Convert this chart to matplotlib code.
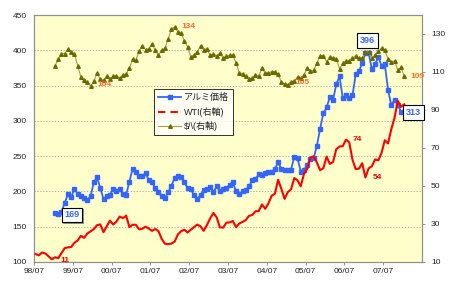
import matplotlib
matplotlib.use("Agg")
import matplotlib.pyplot as plt
import matplotlib.patheffects as pe
from matplotlib.lines import Line2D
import numpy as np

plt.rcParams['font.family'] = ['Liberation Sans', 'Noto Sans CJK JP', 'DejaVu Sans']

# ------------------------------------------------------------
# DATA (monthly, index 0 = 98/07)
# ------------------------------------------------------------
tick_labels = ["98/07", "99/07", "00/07", "01/07", "02/07", "03/07",
               "04/07", "05/07", "06/07", "07/07"]

# aluminium price (left axis), from 99/01
alu_start = 6
alu = [169, 168, 171, 184, 196, 192, 203, 197, 193, 191, 188, 193,
       213, 220, 205, 189, 193, 195, 204, 200, 204, 196, 195, 214,
       232, 227, 222, 222, 226, 216, 213, 205, 199, 193, 190, 199,
       208, 219, 222, 221, 213, 205, 203, 195, 189, 195, 202, 204,
       206, 199, 207, 201, 204, 205, 209, 213, 200, 196, 200, 202,
       207, 216, 218, 224, 223, 226, 227, 228, 232, 241, 232, 230,
       230, 231, 249, 247, 228, 230, 238, 246, 247, 265, 289, 311,
       319, 334, 330, 352, 363, 332, 336, 332, 336, 366, 370, 382,
       396, 396, 373, 381, 390, 378, 380, 344, 322, 330, 323, 313]

# WTI (right axis), from 98/07
wti = [14.2, 13.5, 15.0, 14.5, 13.0, 11.4,
       12.5, 12.0, 14.7, 17.3, 17.7, 17.9, 20.1, 21.3, 23.8, 22.7, 25.0, 26.1,
       27.3, 29.4, 29.8, 25.7, 28.8, 31.8, 29.7, 31.3, 33.9, 33.1, 34.4, 28.4,
       29.6, 29.6, 27.2, 27.5, 28.6, 27.6, 26.4, 27.4, 26.2, 22.2, 19.6, 19.4,
       19.7, 20.7, 24.5, 26.2, 27.0, 25.5, 27.0, 28.4, 29.7, 28.8, 26.4, 29.5,
       33.0, 35.8, 33.5, 28.2, 28.1, 30.7, 30.8, 31.6, 28.3, 30.3, 31.1, 32.1,
       34.3, 34.7, 36.7, 36.8, 40.3, 38.0, 40.8, 44.9, 45.9, 53.3, 48.5, 43.2,
       46.8, 48.2, 54.2, 53.0, 49.8, 56.4, 59.0, 65.0, 65.6, 62.3, 58.3, 59.4,
       65.5, 61.6, 62.7, 69.4, 70.8, 71.0, 74.4, 73.0, 63.8, 58.9, 59.1, 62.0,
       54.5, 59.3, 60.4, 64.0, 63.5, 67.5, 74.1, 72.4, 79.9, 85.8, 94.8, 91.7,
       93.0]

# $/yen (right axis), from 99/01
yen_start = 6
yen = [113.3, 116.7, 119.5, 119.7, 122.0, 120.7, 119.7, 113.3, 107.4, 106.0, 104.8, 102.6,
       105.2, 109.3, 106.3, 105.6, 108.1, 106.1, 107.9, 108.0, 106.8, 108.4, 108.9, 112.2,
       116.7, 116.1, 121.2, 123.8, 121.8, 122.2, 124.6, 121.5, 118.9, 121.4, 122.4, 127.6,
       132.6, 133.6, 131.1, 130.7, 126.4, 123.3, 117.9, 119.0, 120.5, 123.9, 121.6, 122.2,
       118.7, 119.3, 118.6, 119.9, 117.4, 118.3, 118.7, 118.7, 114.8, 109.5, 109.2, 107.7,
       106.3, 106.7, 108.5, 107.7, 112.2, 109.4, 109.4, 110.2, 110.1, 108.8, 104.7, 103.8,
       103.3, 104.9, 105.3, 107.3, 106.6, 108.6, 111.9, 110.6, 111.0, 114.8, 118.5, 118.5,
       115.5, 117.9, 117.3, 117.1, 111.7, 114.6, 115.7, 115.9, 117.2, 118.6, 117.3, 117.3,
       120.6, 120.5, 117.3, 118.9, 120.8, 122.6, 121.6, 116.8, 115.0, 115.9, 111.0, 112.4,
       107.8]

blue = '#3366ff'
red = '#ff0000'
olive_line = '#a0a050'
olive_mark = '#6b6b00'
orange = '#ff6a2a'

# ------------------------------------------------------------
# FIGURE
# ------------------------------------------------------------
fig = plt.figure(figsize=(4.5, 2.89), dpi=100)
ax = fig.add_axes([34 / 450, 1 - 262 / 289, 388 / 450, 247 / 289])
ax.set_facecolor('#ffffcc')
ax2 = ax.twinx()

x_alu = np.arange(alu_start, alu_start + len(alu)) + 0.5
x_wti = np.arange(len(wti)) + 0.5
x_yen = np.arange(yen_start, yen_start + len(yen)) + 0.5

ax.plot(x_alu, alu, color=blue, lw=1.3, marker='s', ms=2.2, mec=blue, zorder=3)
ax2.plot(x_wti, wti, color=red, lw=1.5, zorder=3)
ax2.plot(x_yen, yen, color=olive_line, lw=0.8, marker='^', ms=2.6,
         mfc=olive_mark, mec=olive_mark, zorder=2)

ax.set_xlim(0, 120)
ax.set_ylim(100, 450)
ax2.set_ylim(10, 140)
ax.set_yticks(range(100, 451, 50))
ax2.set_yticks(range(10, 131, 20))
ax.set_xticks(range(0, 120, 12))
ax.set_xticklabels(tick_labels)

ax.yaxis.grid(True, linestyle=(0, (1.5, 2)), color='#a0a0a0', lw=0.6)
ax.set_axisbelow(True)

for a in (ax, ax2):
    for s in a.spines.values():
        s.set_color('#909090')
        s.set_linewidth(0.8)
    a.tick_params(labelsize=6, length=2.5, width=0.6, color='#808080',
                  labelcolor='#222222', pad=2)
ax.tick_params(axis='y', length=0, pad=5)
ax2.tick_params(axis='y', pad=4)
# keep background behind lines from twin axis
ax.set_zorder(0)
ax2.set_zorder(1)
ax2.patch.set_visible(False)

# ------------------------------------------------------------
# LABELS
# ------------------------------------------------------------


def boxed(x, y, s):
    t = ax2.text(x, y, s, color=blue, fontsize=6.5, fontweight='bold',
                 ha='center', va='center', zorder=6,
                 bbox=dict(boxstyle='square,pad=0.3', fc='white', ec='black', lw=0.8))
    t.get_bbox_patch().set_path_effects([pe.SimplePatchShadow(offset=(1.2, -1.2), alpha=0.6), pe.Normal()])
    t.set_clip_on(False)


def left_to_right(v):
    return 10 + (v - 100) * 130 / 350


boxed(11.8, left_to_right(167), "169")
boxed(103.1, left_to_right(414), "396")
boxed(117.3, left_to_right(312), "313")

for xx, yy, s in [(47.7, 133.8, "134"), (21.7, 103.5, "104"),
                  (83.0, 104.5, "105"), (118.6, 107.8, "109")]:
    ax2.text(xx, yy, s, color=orange, fontsize=6, fontweight='bold',
             ha='center', va='center', zorder=5, clip_on=False)

for xx, yy, s in [(100.0, 74.5, "74"), (106.2, 54.5, "54"), (9.6, 10.8, "11")]:
    ax2.text(xx, yy, s, color=red, fontsize=6, fontweight='bold',
             ha='center', va='center', zorder=5)

handles = [
    Line2D([], [], color=blue, lw=1.3, marker='s', ms=2.2),
    Line2D([], [], color=red, lw=1.5, linestyle=(0, (3.5, 2.5))),
    Line2D([], [], color=olive_line, lw=0.8, marker='^', ms=2.6,
           mfc=olive_mark, mec=olive_mark),
]
leg = ax2.legend(handles, ["アルミ価格", "WTI(右軸)", "$/\\(右軸)"],
                 loc='upper left', bbox_to_anchor=(0.309, 0.7),
                 fontsize=6.5, frameon=True, fancybox=False, handlelength=2.6,
                 handletextpad=0.25, borderpad=0.45, labelspacing=0.5,
                 borderaxespad=0)
leg.get_frame().set_edgecolor('black')
leg.get_frame().set_linewidth(0.7)
for t in leg.get_texts():
    t.set_color('#222222')

fig.savefig("out.png", dpi=100)
